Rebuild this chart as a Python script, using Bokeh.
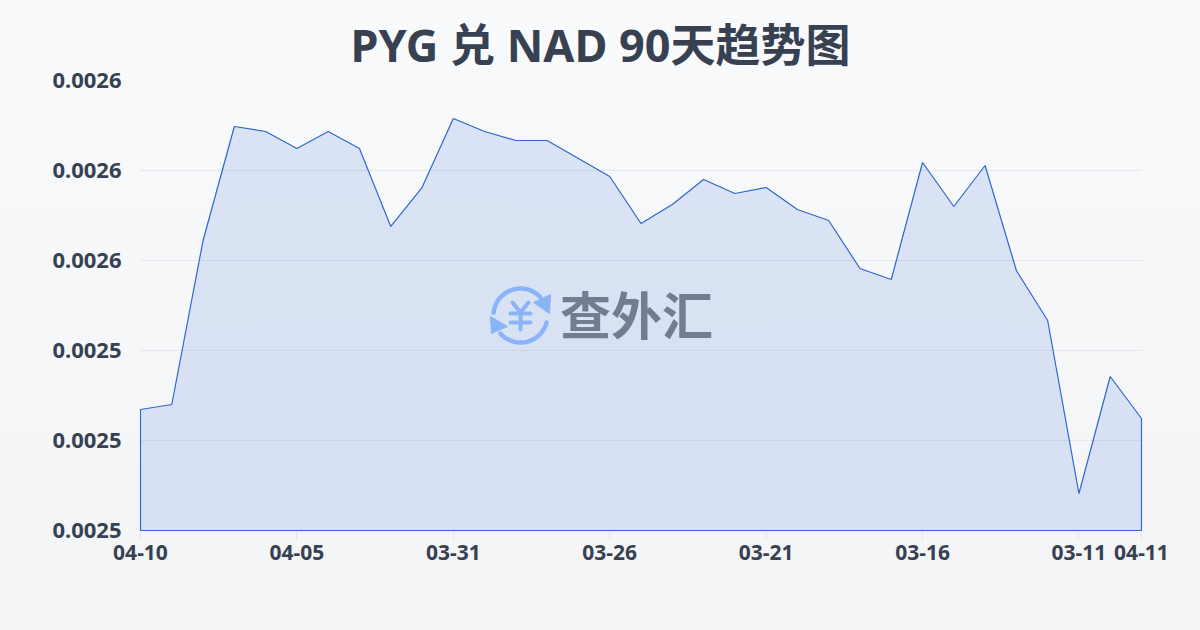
import numpy as np
from bokeh.plotting import figure
from bokeh.models import Range1d, FixedTicker, Label
from bokeh.embed import file_html
from bokeh.resources import INLINE

title = "PYG 兑 NAD 90天趋势图"
dates = ["04-10","04-09","04-08","04-07","04-06","04-05","04-04","04-03","04-02","04-01","03-31",
         "03-30","03-29","03-28","03-27","03-26","03-25","03-24","03-23","03-22","03-21",
         "03-20","03-19","03-18","03-17","03-16","03-15","03-14","03-13","03-12","03-11","03-10","04-11"]
rates = [0.00252689,0.00252800,0.00256444,0.00258978,0.00258867,0.00258489,0.00258867,0.00258489,
         0.00256756,0.00257622,0.00259156,0.00258867,0.00258667,0.00258667,0.00258267,0.00257867,
         0.00256822,0.00257244,0.00257800,0.00257489,0.00257622,0.00257133,0.00256889,0.00255822,
         0.00255578,0.00258178,0.00257200,0.00258111,0.00255778,0.00254667,0.00250822,0.00253422,0.00252489]
x_tick_idx = [0,5,10,15,20,25,30,32]
y_ticks = [0.0025,0.00252,0.00254,0.00256,0.00258,0.0026]
y_labels = ["0.0025","0.0025","0.0025","0.0026","0.0026","0.0026"]
TEXT = "#374151"
FONT = "Noto Sans, Noto Sans CJK SC"

# one pixel of slack round the frame so the outline of the area is not clipped
x_pad = 32 / 1001
y_pad = (y_ticks[-1] - y_ticks[0]) / 450

p = figure(width=1200, height=630, output_backend="svg", toolbar_location=None,
           x_range=Range1d(-x_pad, 32 + x_pad), y_range=Range1d(y_ticks[0] - y_pad, y_ticks[-1]),
           min_border_left=139, min_border_right=58, min_border_top=80, min_border_bottom=99,
           border_fill_color=None, background_fill_color=None, outline_line_color=None,
           styles={"position": "fixed", "left": "0", "top": "0",
                   "background": "linear-gradient(180deg,#f8fafc 0%,#f3f4f6 100%)"})

p.title.text = title
p.title.align = "left"
p.title.offset = 211
p.title.standoff = 12
p.title.text_font = FONT
p.title.text_font_size = "45px"
p.title.text_font_style = "bold"
p.title.text_color = TEXT

xa, ya = p.xaxis[0], p.yaxis[0]
xa.ticker = FixedTicker(ticks=x_tick_idx)
xa.major_label_overrides = {i: dates[i] for i in x_tick_idx}
ya.ticker = FixedTicker(ticks=y_ticks)
ya.major_label_overrides = dict(zip(y_ticks, y_labels))
for a, size in ((xa, "21px"), (ya, "22px")):
    a.axis_line_color = None
    a.minor_tick_line_color = None
    a.major_label_text_font = FONT
    a.major_label_text_font_style = "bold"
    a.major_label_text_font_size = size
    a.major_label_text_color = TEXT
xa.major_tick_in = 0
xa.major_tick_out = 9
xa.major_tick_line_color = "#e5e7eb"
xa.major_label_standoff = 4
ya.major_tick_line_color = None
ya.major_tick_in = 0
ya.major_tick_out = 0
ya.major_label_standoff = 18

p.xgrid.visible = False
p.ygrid.ticker = FixedTicker(ticks=y_ticks)
p.ygrid.grid_line_color = "#e5e7eb"
p.ygrid.grid_line_width = 1

idx = list(range(len(rates)))
base = y_ticks[0]
p.patch([idx[0]] + idx + [idx[-1]], [base] + rates + [base],
        fill_color="#2b63d8", fill_alpha=0.14, line_color="#2f66cc", line_width=1.2)

# watermark drawn in page pixels through a helper range
p.extra_x_ranges["px"] = Range1d(139, 1142)
p.extra_y_ranges["px"] = Range1d(531, 80)
BLUE = "#8ab4f8"
PX = dict(x_range_name="px", y_range_name="px")
cx, cy, r = 520, 315, 27
for a0, a1 in ((186, 317), (15, 138)):
    t = np.radians(np.linspace(a0, a1, 40))
    p.line(cx + r*np.cos(t), cy + r*np.sin(t), line_color=BLUE, line_width=4.5, line_cap="round", **PX)
p.patch([490, 491, 507], [316, 333, 326], fill_color=BLUE, line_color=BLUE, **PX)
p.patch([550, 549, 533], [294, 313, 302], fill_color=BLUE, line_color=BLUE, **PX)
for xs, ys in (([512, 520, 528], [302, 312, 302]), ([510, 530], [313, 313]),
               ([510, 530], [322, 322]), ([520, 520], [312, 329])):
    p.line(xs, ys, line_color=BLUE, line_width=4, line_cap="round", line_join="round", **PX)
p.add_layout(Label(x=636, y=312, text="查外汇", text_align="center", text_baseline="middle",
                   text_font="Noto Sans CJK SC", text_font_style="bold", text_font_size="51px", text_color="#737d90", **PX))

open("out.html", "w").write(file_html(p, INLINE))
